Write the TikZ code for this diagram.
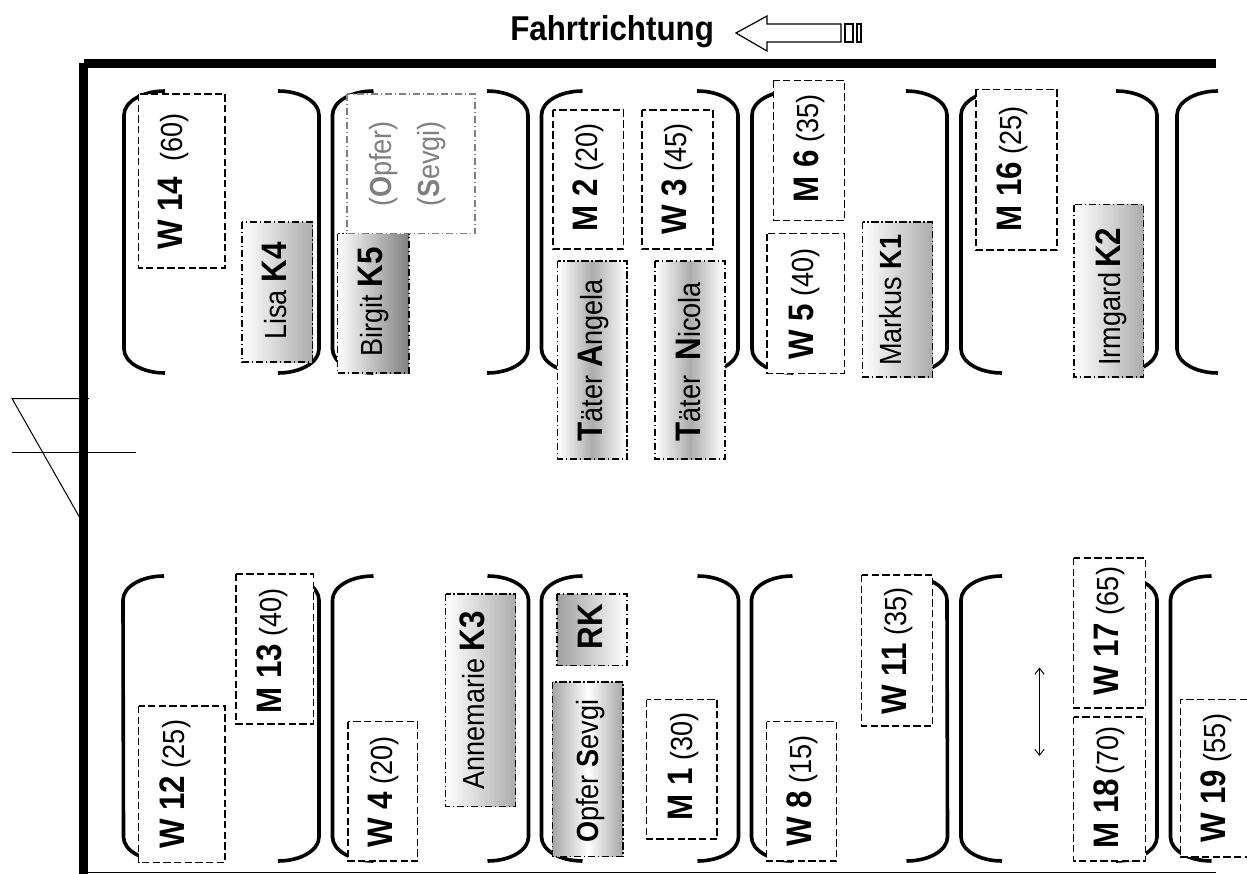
\documentclass[tikz,border=0pt]{standalone}
\usepackage{fontspec}
\setmainfont{Liberation Sans}
\usetikzlibrary{arrows.meta}
\newcommand{\fett}[1]{{\fontsize{23.5}{25}\selectfont\bfseries #1}}
\tikzset{
    bench/.style={line width=2.7pt},
    wall/.style={line width=6.4pt},
    gastbox/.style={draw=black, fill=white, line width=0.8pt, dash pattern=on 5.5pt off 2.5pt},
    kbox/.style={draw=black, line width=0.8pt, dash pattern=on 5.5pt off 2pt on 1pt off 2pt},
    lbl/.style={rotate=90, yscale=1.13, anchor=base west, inner sep=0pt, font=\fontsize{20.3}{22}\selectfont}
}
\begin{document}
\begin{tikzpicture}[x=0.75pt, y=-0.75pt]
    \useasboundingbox (0,0) rectangle (1247,874);

    % --- 1. Title and direction arrow ---
    \node[anchor=base west, inner sep=0pt, yscale=1.1, font=\fontsize{23.5}{26}\selectfont\bfseries] (titel) at (510,40.5) {Fahrtrichtung};
    \draw[line width=0.9pt, fill=white] (736,33) -- (767,16) -- (767,24) -- (841,24) -- (841,42) -- (767,42) -- (767,51) -- cycle;
    \draw[line width=0.9pt] (845,24) rectangle (853,42);
    \draw[line width=0.9pt] (857,24) rectangle (861,42);

    % --- 2. Walls and door ---
    \draw[wall] (84,63.5) -- (1216,63.5);
    \draw[wall] (83.5,63) -- (83.5,874);
    \draw[line width=1.2pt] (84,872.5) -- (1216,872.5);
    \draw[line width=0.75pt] (89,398.5) -- (12,398.5) -- (80,518);
    \draw[line width=0.75pt] (12,452) -- (136,452);

    % --- 3. Benches, upper row ---
    \draw[bench] (165,91) arc (270:180:41 and 24) -- (124,349) arc (180:90:41 and 24);
    \draw[bench] (278,91) arc (-90:0:41 and 24) -- (319,349) arc (0:90:41 and 24);
    \draw[bench] (373.5,91) arc (270:180:41 and 24) -- (332.5,349) arc (180:90:41 and 24);
    \draw[bench] (487,91) arc (-90:0:41 and 24) -- (528,349) arc (0:90:41 and 24);
    \draw[bench] (582.5,91) arc (270:180:41 and 24) -- (541.5,349) arc (180:90:41 and 24);
    \draw[bench] (697,91) arc (-90:0:41 and 24) -- (738,349) arc (0:90:41 and 24);
    \draw[bench] (793,91) arc (270:180:41 and 24) -- (752,349) arc (180:90:41 and 24);
    \draw[bench] (906,91) arc (-90:0:41 and 24) -- (947,349) arc (0:90:41 and 24);
    \draw[bench] (1002,91) arc (270:180:41 and 24) -- (961,349) arc (180:90:41 and 24);
    \draw[bench] (1116,91) arc (-90:0:41 and 24) -- (1157,349) arc (0:90:41 and 24);
    \draw[bench] (1218,91) arc (270:180:41 and 24) -- (1177,349) arc (180:90:41 and 24);

    % --- 4. Benches, lower row ---
    \draw[bench] (164,576) arc (270:180:41 and 24) -- (123.5,837) arc (180:90:41 and 24);
    \draw[bench] (278,576) arc (-90:0:41 and 24) -- (319,837) arc (0:90:41 and 24);
    \draw[bench] (373.5,576) arc (270:180:41 and 24) -- (332.5,837) arc (180:90:41 and 24);
    \draw[bench] (487.5,576) arc (-90:0:41 and 24) -- (528.5,837) arc (0:90:41 and 24);
    \draw[bench] (582.5,576) arc (270:180:41 and 24) -- (541.5,837) arc (180:90:41 and 24);
    \draw[bench] (697.5,576) arc (-90:0:41 and 24) -- (738.5,837) arc (0:90:41 and 24);
    \draw[bench] (792.5,576) arc (270:180:41 and 24) -- (751.5,837) arc (180:90:41 and 24);
    \draw[bench] (906,576) arc (-90:0:41 and 24) -- (947.5,837) arc (0:90:41 and 24);
    \draw[bench] (1002,576) arc (270:180:41 and 24) -- (961,837) arc (180:90:41 and 24);
    \draw[bench] (1116,576) arc (-90:0:41 and 24) -- (1157,837) arc (0:90:41 and 24);
    \draw[bench] (1211.5,576) arc (270:180:41 and 24) -- (1170.5,837) arc (180:90:41 and 24);

    % --- 5. Passengers, upper row ---
    \draw[gastbox] (138.5,94) rectangle (225,268);
    \node[lbl] (w14) at (182.5,250) {\fett{W 14}\ \ (60)};

    \draw[kbox, left color=white, right color=gray!65] (242,222) rectangle (312.5,362);
    \node[lbl] (k4) at (286.5,340) {Lisa \fett{K4}};

    \draw[kbox, left color=white, right color=gray] (337.5,233.5) rectangle (409,373);
    \node[lbl] (k5) at (382,357) {Birgit \fett{K5}};

    % the empty seat sits on top of Birgit
    \draw[kbox, draw=gray, fill=white] (347,94) rectangle (475,233.5);
    \node[lbl, text=gray] (opfer) at (391,207) {(\textbf{O}pfer)};
    \node[lbl, text=gray] (sevgi) at (439,207) {(\textbf{S}evgi)};

    \draw[gastbox] (553,110) rectangle (623.5,249);
    \node[lbl] (m2) at (597.5,232) {\fett{M 2} (20)};

    \draw[gastbox] (642,110) rectangle (713,249);
    \node[lbl] (w3) at (686,235) {\fett{W 3} (45)};

    \draw[kbox, left color=white, right color=white, middle color=gray!65] (557.5,261) rectangle (627,459);
    \node[lbl] (angela) at (602,441.5) {\fett{T}äter \fett{A}ngela};

    \draw[kbox, left color=white, right color=white, middle color=gray!65] (655,261) rectangle (725,459);
    \node[lbl] (nicola) at (700,441.5) {\fett{T}äter\ \ \fett{N}icola};

    \draw[gastbox] (773.5,80.5) rectangle (844.5,220.5);
    \node[lbl] (m6) at (818,203) {\fett{M 6} (35)};

    \draw[gastbox] (767,233.5) rectangle (844.5,373.5);
    \node[lbl] (w5) at (813.5,360) {\fett{W 5} (40)};

    \draw[kbox, left color=white, right color=gray!65] (862.5,222) rectangle (932.5,377);
    \node[lbl] (k1) at (901,366) {Markus \textbf{K1}};

    \draw[gastbox] (976,89.5) rectangle (1057,250);
    \node[lbl] (m16) at (1021.5,232) {\fett{M 16} (25)};

    \draw[kbox, left color=white, right color=gray!65] (1074,204.5) rectangle (1143.5,377);
    \node[lbl] (k2) at (1120,366) {Irmgard\,\fett{K2}};

    % --- 6. Passengers, lower row ---
    \draw[gastbox] (138.5,706) rectangle (225,862.5);
    \node[lbl] (w12) at (184,849) {\fett{W 12} (25)};

    \draw[gastbox] (236,574) rectangle (313.5,724);
    \node[lbl] (m13) at (281,714) {\fett{M 13} (40)};

    \draw[gastbox] (348,721.5) rectangle (417.5,861);
    \node[lbl] (w4) at (392.5,848) {\fett{W 4} (20)};

    \draw[kbox, left color=white, right color=gray!65] (445.5,594) rectangle (515.5,806.5);
    \node[lbl] (k3) at (484.5,790) {Annemarie \fett{K3}};

    \draw[kbox, left color=gray!75, right color=white] (557,594) rectangle (627,665.5);
    \node[lbl] (rk) at (602.5,649.5) {\fett{RK}};

    \draw[kbox, left color=gray!70, right color=gray!70, middle color=white] (552.5,682) rectangle (623,856.5);
    \node[lbl] (sevgi2) at (598.5,843) {\textbf{O}pfer \textbf{S}evgi};

    \draw[gastbox] (646.5,699.5) rectangle (717,839);
    \node[lbl] (m1) at (692.5,821) {\fett{M 1} (30)};

    \draw[gastbox] (766.5,721.5) rectangle (836.5,861);
    \node[lbl] (w8) at (811,847) {\fett{W 8} (15)};

    \draw[gastbox] (861.5,575) rectangle (932.5,726);
    \node[lbl] (w11) at (906,715) {\fett{W 11} (35)};

    \draw[gastbox] (1073.5,558) rectangle (1145.5,708);
    \node[lbl] (w17) at (1118.5,696) {\fett{W 17} (65)};

    \draw[gastbox] (1073.5,717) rectangle (1145.5,861);
    \node[lbl] (m18) at (1118.5,849) {\fett{M 18}\,(70)};

    % open to the right, runs off the page
    \draw[gastbox] (1247,699.5) -- (1180.5,699.5) -- (1180.5,857) -- (1247,857);
    \node[lbl] (w19) at (1225,843) {\fett{W 19} (55)};

    % --- 7. Aisle arrow ---
    \coordinate (gangoben) at (1039.5,667.5);
    \coordinate (gangunten) at (1039.5,756);
    \draw[{Straight Barb[length=4.5pt,width=7pt]}-{Straight Barb[length=4.5pt,width=7pt]}, line width=0.7pt] (gangoben) -- (gangunten);
\end{tikzpicture}
\end{document}
